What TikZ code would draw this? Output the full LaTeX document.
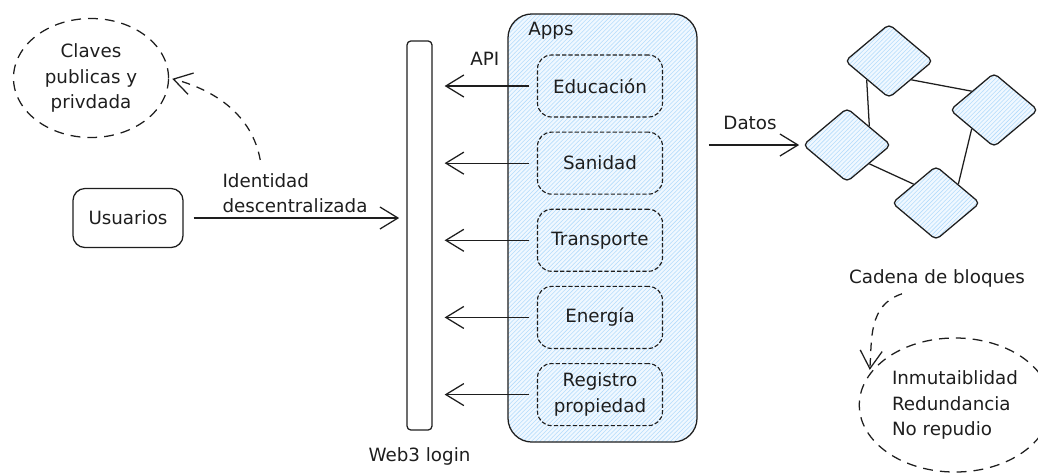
\documentclass[tikz,border=0pt]{standalone}
\usepackage{fontspec}
\setmainfont{DejaVu Sans}
\usepackage{tikz}
\usetikzlibrary{arrows.meta, positioning, shapes.geometric, patterns, calc}
\definecolor{trazo}{HTML}{1E1E1E}
\definecolor{azulclaro}{HTML}{F0F8FF}
\definecolor{azulraya}{HTML}{B4DCFC}

\begin{document}
\begin{tikzpicture}[x=0.025cm, y=-0.025cm, node distance=0.35cm, every node/.style={font=\fontsize{13}{18}\selectfont, text=trazo}]
  % estilos
  \tikzstyle{nota}=[ellipse, draw=trazo, line width=0.9pt, dash pattern=on 7pt off 5pt, align=center]
  \tikzstyle{caja}=[rectangle, rounded corners=0.3cm, draw=trazo, line width=0.9pt, minimum width=2.75cm, minimum height=1.475cm, align=center]
  \tikzstyle{barra}=[rectangle, rounded corners=0.1cm, draw=trazo, line width=0.9pt, minimum width=0.625cm, minimum height=9.725cm]
  \tikzstyle{rayado}=[preaction={fill=azulclaro}, pattern=north east lines, pattern color=azulraya]
  \tikzstyle{contenedor}=[rectangle, rounded corners=0.6cm, draw=trazo, line width=0.9pt, rayado, minimum width=4.725cm, minimum height=10.7cm]
  \tikzstyle{app}=[rectangle, rounded corners=0.35cm, draw=trazo, line width=0.8pt, dash pattern=on 3pt off 1.5pt, minimum width=3.125cm, minimum height=1.55cm, align=center]
  \tikzstyle{bloque}=[diamond, rounded corners=0.12cm, draw=trazo, line width=0.9pt, rayado, inner sep=0pt, minimum width=2.2cm, minimum height=1.85cm]
  \tikzstyle{flecha}=[draw=trazo, line width=0.9pt, -{Straight Barb[length=0.45cm, width=0.55cm]}]
  \tikzstyle{enlace}=[draw=trazo, line width=0.9pt]
  \tikzstyle{curva}=[flecha, dash pattern=on 6pt off 5pt]

  \useasboundingbox (0,0) rectangle (1038,475);

  % nodos
  \node (claves) [nota, minimum width=3.875cm, minimum height=2.975cm] at (91,78) {Claves\\publicas y\\privdada};
  \node (usuarios) [caja] at (128,218) {Usuarios};
  \node (login) [barra] at (419.5,235.5) {};
  \node (web3) [below=0.3cm of login] {Web3 login};

  \node (apps) [contenedor] at (602.5,228) {};
  \node (titapps) [anchor=north west] at ($(apps.north west)+(16,4)$) {Apps};
  \node (edu) [app] at (600,86) {Educación};
  \node (san) [app, below=of edu] {Sanidad};
  \node (tra) [app, below=of san] {Transporte};
  \node (ene) [app, below=of tra] {Energía};
  \node (reg) [app, below=of ene] {Registro\\propiedad};

  \node (b1) [bloque] at (889,61) {};
  \node (b2) [bloque] at (994,110) {};
  \node (b3) [bloque] at (847,145) {};
  \node (b4) [bloque] at (936,203) {};
  \node (cadena) at (937,278) {Cadena de bloques};
  \node (props) [nota, align=left, minimum width=4.1cm, minimum height=3.35cm] at (955,405) {Inmutaiblidad\\Redundancia\\No repudio};

  % flechas
  \draw[flecha, shorten <=0.25cm, shorten >=0.18cm] (usuarios.east) -- node[above, align=left] (ident) {Identidad\\descentralizada} (usuarios.east -| login.west);
  \coordinate (c1) at ($(ident.north west)+(43,-8)$);
  \draw[curva, shorten >=0.08cm] (c1) .. controls (252,115) and (215,90) .. (claves.east);

  \draw[flecha, shorten <=0.19cm, shorten >=0.3cm] (edu.west) -- node[above=0.38cm] {API} (edu.west -| login.east);
  \draw[flecha, shorten <=0.19cm, shorten >=0.3cm] (san.west) -- (san.west -| login.east);
  \draw[flecha, shorten <=0.19cm, shorten >=0.3cm] (tra.west) -- (tra.west -| login.east);
  \draw[flecha, shorten <=0.19cm, shorten >=0.3cm] (ene.west) -- (ene.west -| login.east);
  \draw[flecha, shorten <=0.19cm, shorten >=0.3cm] (reg.west) -- (reg.west -| login.east);

  \draw[flecha, shorten <=0.28cm, shorten >=0.08cm] (apps.east |- b3.west) -- node[above=0.26cm] {Datos} (b3.west);

  \draw[enlace] (b1.south west) -- (b3.north east);
  \draw[enlace] (b1.south east) -- (b2.north west);
  \draw[enlace] (b2.south west) -- (b4.north east);
  \draw[enlace] (b3.south east) -- (b4.north west);

  \coordinate (c2) at ($(cadena.south)+(-35,2)$);
  \draw[curva, shorten >=0.1cm] (c2) .. controls (868,305) and (872,340) .. (props.160);
\end{tikzpicture}
\end{document}
